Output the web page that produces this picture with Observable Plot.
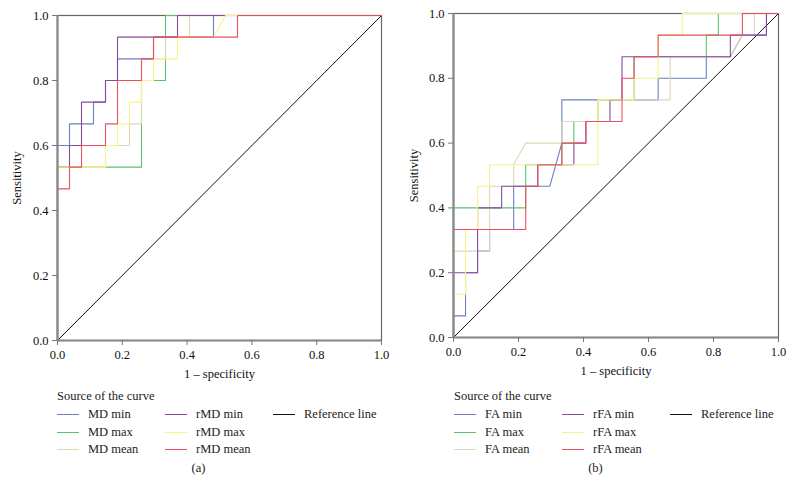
<!DOCTYPE html>
<html>
<head>
<meta charset="utf-8">
<script src="https://cdn.jsdelivr.net/npm/d3@7"></script>
<script src="https://cdn.jsdelivr.net/npm/@observablehq/plot@0.6"></script>
<style>
  body { margin: 0; background: #fff; font-family: "Liberation Serif", "DejaVu Serif", serif; }
  #wrap { display: flex; width: 794px; height: 495px; }
  .panel { position: relative; width: 397px; height: 495px; }
  .panel svg { display: block; }
  .legend { position: absolute; left: 0; top: 389px; width: 397px; font-size: 12.5px; color: #222; }
  .legend .ttl { position: absolute; left: 57px; top: 0; white-space: nowrap; }
  .legend .item { position: absolute; white-space: nowrap; height: 17px; line-height: 17px; }
  .legend .sw { position: absolute; width: 22px; height: 0; top: 8px; }
  .legend .tx { position: absolute; left: 31px; top: 0; }
  .cap { position: absolute; top: 461px; width: 397px; text-align: center; font-size: 12.5px; color: #222; }
</style>
</head>
<body>
<div id="wrap"><div class="panel" id="pa"></div><div class="panel" id="pb"></div></div>
<script>
// ROC vertices as [false positives, true positives] counts (27 negatives, 15 positives)
const negatives = 27;
const positives = 15;
const ticks = [0, 0.2, 0.4, 0.6, 0.8, 1.0];

// Panel (a)
const namesA = ["MD min", "MD max", "MD mean", "rMD min", "rMD max", "rMD mean"];
const mdMin = [[0,0],[0,9],[1,9],[1,10],[3,10],[3,11],[4,11],[4,12],[5,12],[5,13],[8,13],[8,14],[13,14],[13,15],[27,15]];
const mdMax = [[0,0],[0,8],[7,8],[7,12],[9,12],[9,15],[27,15]];
const mdMean = [[0,0],[0,8],[4,8],[4,9],[6,9],[6,10],[7,10],[7,12],[8,12],[8,13],[9,13],[9,14],[11,14],[11,15],[27,15]];
const rmdMin = [[0,0],[0,8],[1,8],[1,9],[2,9],[2,11],[4,11],[4,12],[5,12],[5,14],[10,14],[10,15],[27,15]];
const rmdMax = [[0,0],[0,8],[4,8],[4,9],[5,9],[5,10],[6,10],[6,11],[7,11],[7,12],[8,12],[8,13],[10,13],[10,14],[13,14],[14,15],[27,15]];
const rmdMean = [[0,0],[0,7],[1,7],[1,8],[2,8],[2,9],[4,9],[4,10],[5,10],[5,12],[7,12],[7,13],[8,13],[8,14],[15,14],[15,15],[27,15]];

// Panel (b)
const namesB = ["FA min", "FA max", "FA mean", "rFA min", "rFA max", "rFA mean"];
const faMin = [[0,0],[0,1],[1,1],[1,3],[2,3],[2,4],[3,4],[3,5],[5,5],[5,7],[8,7],[9,9],[9,11],[17,11],[17,12],[21,12],[21,13],[23,13],[24,14],[26,14],[26,15],[27,15]];
const faMax = [[0,0],[0,6],[6,6],[6,8],[9,8],[9,9],[10,9],[10,10],[12,10],[12,11],[15,11],[15,13],[21,13],[21,14],[22,14],[22,15],[27,15]];
const faMean = [[0,0],[0,4],[3,4],[3,7],[5,7],[5,8],[6,9],[9,9],[9,10],[12,10],[12,11],[18,11],[18,13],[23,13],[24,14],[25,14],[25,15],[27,15]];
const rfaMin = [[0,0],[0,3],[2,3],[2,6],[4,6],[4,7],[7,7],[7,8],[10,8],[10,9],[11,9],[11,10],[13,10],[13,11],[14,11],[14,13],[23,13],[23,14],[26,14],[26,15],[27,15]];
const rfaMax = [[0,0],[0,2],[1,2],[1,5],[2,5],[2,7],[3,7],[3,8],[12,8],[12,11],[15,11],[15,12],[17,12],[17,14],[19,14],[19,15],[27,15]];
const rfaMean = [[0,0],[0,5],[6,5],[6,7],[7,7],[7,8],[9,8],[9,9],[11,9],[11,10],[14,10],[14,12],[15,12],[15,13],[17,13],[17,14],[24,14],[24,15],[27,15]];

const colors = ["#6b7fc2", "#5cc26c", "#dcd8b6", "#8a4a9c", "#f7f28a", "#e8505f"];
const refName = "Reference line";
const refLine = [[0,0],[1,1]];

function toRows(series, names) {
  const rows = [];
  series.forEach((pts, i) => pts.forEach(([fp, tp], k) => rows.push({s: names[i], order: k, x: fp / negatives, y: tp / positives})));
  return rows;
}

function panel(el, series, names, m, caption) {
  const rows = toRows(series, names);
  const chart = Plot.plot({
    width: 397, height: 385,
    marginLeft: m.left, marginRight: 16, marginTop: m.top, marginBottom: 385 - m.bottom,
    style: {fontFamily: "Liberation Serif, serif", fontSize: "12.5px", color: "#111", background: "#fff"},
    x: {domain: [0, 1]},
    y: {domain: [0, 1]},
    color: {domain: names, range: colors},
    marks: [
      Plot.frame({stroke: "#666", strokeWidth: 1.2}),
      Plot.lineY(refLine.map(([a, b]) => ({x: a, y: b})), {x: "x", y: "y", stroke: "#111", strokeWidth: 1}),
      ...names.map(n => Plot.line(rows.filter(r => r.s === n), {x: "x", y: "y", stroke: "s", strokeWidth: 1.1})),
      Plot.ruleX([0], {stroke: "#888", strokeWidth: 2.2}),
      Plot.ruleY([0], {stroke: "#888", strokeWidth: 2.2}),
      Plot.axisY({ticks, tickFormat: d3.format(".1f"), tickSize: 5, tickPadding: 4, stroke: "#777",
        label: "Sensitivity", labelAnchor: "center", labelOffset: m.labelY, labelArrow: "none"}),
      Plot.axisX({ticks, tickFormat: d3.format(".1f"), tickSize: 5, tickPadding: 5, stroke: "#777",
        label: "1 \u2013 specificity", labelAnchor: "center", labelOffset: 37, labelArrow: "none"})
    ]
  });
  el.appendChild(chart);
  const lg = document.createElement("div");
  lg.className = "legend";
  const ttl = document.createElement("div");
  ttl.className = "ttl"; ttl.textContent = "Source of the curve";
  lg.appendChild(ttl);
  const colsX = [57, 165, 273];
  const rowsY = [17, 34.5, 52];
  const items = names.map((n, i) => ({n, c: colors[i], col: Math.floor(i / 3), row: i % 3}));
  items.push({n: refName, c: "#111", col: 2, row: 0});
  items.forEach(it => {
    const d = document.createElement("div");
    d.className = "item";
    d.style.left = colsX[it.col] + "px";
    d.style.top = rowsY[it.row] + "px";
    const sw = document.createElement("div");
    sw.className = "sw"; sw.style.borderTop = "1.3px solid " + it.c;
    const tx = document.createElement("div");
    tx.className = "tx"; tx.textContent = it.n;
    d.appendChild(sw); d.appendChild(tx);
    lg.appendChild(d);
  });
  el.appendChild(lg);
  const cap = document.createElement("div");
  cap.className = "cap"; cap.textContent = caption;
  el.appendChild(cap);
}

panel(document.getElementById("pa"), [mdMin, mdMax, mdMean, rmdMin, rmdMax, rmdMean], namesA,
  {left: 57, top: 15, bottom: 340, labelY: 45}, "(a)");
panel(document.getElementById("pb"), [faMin, faMax, faMean, rfaMin, rfaMax, rfaMean], namesB,
  {left: 56, top: 13, bottom: 337, labelY: 44}, "(b)");
</script>
</body>
</html>
